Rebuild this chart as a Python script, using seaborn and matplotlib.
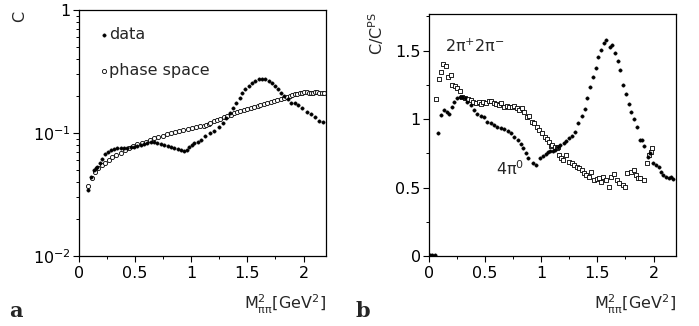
import matplotlib
matplotlib.use("Agg")
import matplotlib.pyplot as plt
import seaborn as sns
import pandas as pd
from matplotlib.ticker import FixedLocator, MultipleLocator, LogLocator, NullFormatter

# ---------------- data: panel a (log scale) ----------------
a_data_m = [0.083, 0.105, 0.134, 0.149, 0.163, 0.185, 0.202, 0.232, 0.262, 0.283, 0.312, 0.342,
            0.372, 0.402, 0.431, 0.461, 0.491, 0.521, 0.551, 0.580, 0.610, 0.640, 0.670, 0.699,
            0.729, 0.759, 0.789, 0.818, 0.848, 0.878, 0.908, 0.938, 0.958, 0.982, 1.006, 1.027,
            1.057, 1.086, 1.125, 1.164, 1.205, 1.244, 1.283, 1.313, 1.342, 1.372, 1.402, 1.432,
            1.452, 1.482, 1.512, 1.542, 1.571, 1.601, 1.631, 1.661, 1.690, 1.720, 1.750, 1.771,
            1.795, 1.824, 1.860, 1.890, 1.920, 1.949, 1.988, 2.027, 2.063, 2.098, 2.137, 2.176]
a_data_c = [0.0344, 0.044, 0.050, 0.0516, 0.0532, 0.0567, 0.0611, 0.0675, 0.0705, 0.0727, 0.0737, 0.0751,
            0.0751, 0.0751, 0.0760, 0.0765, 0.0774, 0.0784, 0.0799, 0.0814, 0.0834, 0.0850, 0.0850, 0.0834,
            0.0814, 0.0799, 0.0784, 0.0774, 0.0760, 0.0737, 0.0727, 0.0714, 0.0727, 0.0765, 0.0799, 0.0825,
            0.0850, 0.0878, 0.0945, 0.0995, 0.1044, 0.1112, 0.1213, 0.1317, 0.1446, 0.1589, 0.1743, 0.1915,
            0.2103, 0.2266, 0.2411, 0.2536, 0.2663, 0.2733, 0.2748, 0.2733, 0.2663, 0.2564, 0.2411, 0.2266,
            0.2126, 0.2000, 0.1879, 0.1763, 0.1743, 0.1689, 0.1589, 0.1490, 0.1419, 0.1357, 0.1259, 0.1235]

a_ps_m = [0.083, 0.113, 0.143, 0.173, 0.202, 0.232, 0.268, 0.298, 0.333, 0.372, 0.411, 0.446,
          0.482, 0.521, 0.560, 0.595, 0.631, 0.670, 0.708, 0.744, 0.780, 0.818, 0.857, 0.893,
          0.929, 0.967, 1.006, 1.042, 1.077, 1.116, 1.130, 1.155, 1.170, 1.199, 1.230, 1.259,
          1.290, 1.319, 1.350, 1.378, 1.410, 1.438, 1.470, 1.497, 1.530, 1.556, 1.590, 1.616,
          1.650, 1.676, 1.710, 1.735, 1.765, 1.795, 1.825, 1.854, 1.875, 1.899, 1.920, 1.944,
          1.965, 1.988, 2.005, 2.027, 2.045, 2.063, 2.080, 2.098, 2.120, 2.137, 2.160, 2.181]
a_ps_c = [0.0371, 0.0428, 0.0485, 0.0516, 0.0549, 0.0573, 0.0603, 0.0634, 0.0662, 0.0691, 0.0727, 0.0751,
          0.0784, 0.0814, 0.0834, 0.0850, 0.0877, 0.0905, 0.0933, 0.0951, 0.0976, 0.0995, 0.1020, 0.1040,
          0.1060, 0.1075, 0.1090, 0.1110, 0.1130, 0.1150, 0.1160, 0.1175, 0.1200, 0.1250, 0.1280, 0.1310,
          0.1340, 0.1380, 0.1410, 0.1445, 0.1480, 0.1510, 0.1540, 0.1570, 0.1600, 0.1635, 0.1660, 0.1690,
          0.1720, 0.1750, 0.1780, 0.1810, 0.1850, 0.1890, 0.1930, 0.1960, 0.2000, 0.2030, 0.2060, 0.2075,
          0.2100, 0.2126, 0.2160, 0.2168, 0.2130, 0.2126, 0.2110, 0.2168, 0.2150, 0.2126, 0.2100, 0.2126]

# ---------------- data: panel b (ratio) ----------------
b_fill_m = [0.01, 0.03, 0.05, 0.083, 0.107, 0.137, 0.158, 0.182, 0.203, 0.227, 0.25, 0.274, 0.295,
            0.319, 0.34, 0.37, 0.40, 0.43, 0.46, 0.49, 0.52, 0.55, 0.58, 0.61, 0.64, 0.67, 0.70,
            0.73, 0.76, 0.79, 0.815, 0.835, 0.86, 0.88, 0.925, 0.955, 0.985, 1.015, 1.04, 1.06,
            1.08, 1.10, 1.12, 1.145, 1.17, 1.20, 1.22, 1.25, 1.275, 1.30, 1.33, 1.36, 1.39, 1.41,
            1.434, 1.458, 1.485, 1.509, 1.532, 1.559, 1.580, 1.61, 1.634, 1.658, 1.679, 1.70, 1.729,
            1.753, 1.777, 1.798, 1.822, 1.849, 1.878, 1.896, 1.917, 1.947, 1.968, 1.997, 2.02, 2.046,
            2.066, 2.087, 2.11, 2.136, 2.156, 2.175]
b_fill_r = [0.005, 0.005, 0.005, 0.895, 1.03, 1.066, 1.053, 1.04, 1.09, 1.126, 1.151, 1.163, 1.158,
            1.151, 1.126, 1.10, 1.066, 1.036, 1.022, 1.012, 0.980, 0.973, 0.956, 0.944, 0.937, 0.925, 0.912,
            0.895, 0.871, 0.847, 0.818, 0.786, 0.754, 0.713, 0.676, 0.664, 0.713, 0.73, 0.745, 0.757,
            0.769, 0.769, 0.774, 0.793, 0.81, 0.822, 0.842, 0.859, 0.876, 0.907, 0.97, 1.02, 1.07, 1.151,
            1.231, 1.309, 1.375, 1.450, 1.504, 1.553, 1.577, 1.528, 1.540, 1.479, 1.426, 1.358, 1.248,
            1.182, 1.109, 1.053, 0.998, 0.944, 0.847, 0.847, 0.803, 0.725, 0.75, 0.677, 0.664, 0.652,
            0.615, 0.591, 0.579, 0.567, 0.579, 0.56]

b_sq_m = [0.066, 0.089, 0.11, 0.125, 0.149, 0.173, 0.197, 0.209, 0.233, 0.253, 0.275, 0.298, 0.322,
          0.349, 0.373, 0.396, 0.418, 0.441, 0.462, 0.483, 0.507, 0.530, 0.552, 0.575, 0.597, 0.620,
          0.641, 0.671, 0.695, 0.716, 0.74, 0.76, 0.781, 0.805, 0.829, 0.85, 0.874, 0.894, 0.919,
          0.939, 0.96, 0.984, 1.008, 1.029, 1.049, 1.073, 1.09, 1.098, 1.118, 1.142, 1.15, 1.16,
          1.175, 1.196, 1.217, 1.246, 1.27, 1.291, 1.315, 1.336, 1.36, 1.38, 1.402, 1.425, 1.446,
          1.47, 1.494, 1.514, 1.53, 1.554, 1.574, 1.604, 1.619, 1.649, 1.673, 1.693, 1.724, 1.744,
          1.768, 1.798, 1.822, 1.843, 1.863, 1.881, 1.912, 1.941, 1.962, 1.977, 1.983]
b_sq_r = [1.144, 1.29, 1.345, 1.40, 1.387, 1.309, 1.321, 1.248, 1.241, 1.224, 1.207, 1.158, 1.151,
          1.144, 1.139, 1.126, 1.115, 1.126, 1.109, 1.126, 1.119, 1.134, 1.134, 1.119, 1.109, 1.102,
          1.119, 1.09, 1.095, 1.085, 1.085, 1.095, 1.078, 1.066, 1.078, 1.053, 1.012, 1.022, 0.98,
          0.969, 0.939, 0.92, 0.90, 0.871, 0.852, 0.834, 0.803, 0.81, 0.798, 0.786, 0.798, 0.737,
          0.713, 0.70, 0.737, 0.688, 0.676, 0.664, 0.652, 0.64, 0.628, 0.604, 0.591, 0.579, 0.615,
          0.555, 0.56, 0.567, 0.542, 0.579, 0.555, 0.501, 0.579, 0.599, 0.555, 0.531, 0.518, 0.501,
          0.604, 0.615, 0.628, 0.591, 0.567, 0.567, 0.555, 0.676, 0.737, 0.761, 0.786]

xticks = [0, 0.5, 1, 1.5, 2]
xtick_labels = ["0", "0.5", "1", "1.5", "2"]
a_yticks = [0.01, 0.1, 1]
a_ytick_labels = [r"$10^{-2}$", r"$10^{-1}$", "1"]
b_yticks = [0, 0.5, 1, 1.5]
b_ytick_labels = ["0", "0.5", "1", "1.5"]

# ---------------- style ----------------
sns.set_style("ticks")
plt.rcParams["font.family"] = ["DejaVu Sans"]
plt.rcParams["mathtext.fontset"] = "dejavusans"
plt.rcParams["mathtext.default"] = "regular"

FS = 11.5
W, H = 699, 326
fig = plt.figure(figsize=(W / 100, H / 100), dpi=100)

def px_axes(l, t, r, b):
    return fig.add_axes([l / W, 1 - b / H, (r - l) / W, (b - t) / H])

axa = px_axes(79, 10, 326, 256)
axb = px_axes(429, 14, 676, 256)

dfa_d = pd.DataFrame({"m": a_data_m, "c": a_data_c})
dfa_p = pd.DataFrame({"m": a_ps_m, "c": a_ps_c})
dfb_f = pd.DataFrame({"m": b_fill_m, "r": b_fill_r})
dfb_s = pd.DataFrame({"m": b_sq_m, "r": b_sq_r})

sns.scatterplot(data=dfa_p, x="m", y="c", ax=axa, marker="o", s=9, facecolor="white",
                edgecolor="black", linewidth=0.6, label="phase space", zorder=2)
sns.scatterplot(data=dfa_d, x="m", y="c", ax=axa, marker="o", s=6, color="black",
                edgecolor="black", linewidth=0.3, label="data", zorder=3)

sns.scatterplot(data=dfb_s, x="m", y="r", ax=axb, marker="s", s=9, facecolor="white",
                edgecolor="black", linewidth=0.6, zorder=2)
sns.scatterplot(data=dfb_f, x="m", y="r", ax=axb, marker="o", s=6, color="black",
                edgecolor="black", linewidth=0.3, zorder=3)

for ax in (axa, axb):
    ax.set_xlim(0, 2.2)
    ax.set_xlabel("")
    ax.set_ylabel("")
    for sp in ax.spines.values():
        sp.set_visible(True)
        sp.set_linewidth(0.9)
        sp.set_color("black")
    ax.set_xticks(xticks)
    ax.set_xticklabels(xtick_labels)
    ax.xaxis.set_minor_locator(MultipleLocator(0.25))
    ax.tick_params(axis="both", which="major", direction="out", length=4, width=0.8,
                   labelsize=FS, colors="black", pad=2)
    ax.tick_params(axis="both", which="minor", direction="out", length=2.3, width=0.7,
                   colors="black")
    ax.tick_params(axis="x", which="major", pad=3)
    ax.tick_params(top=False, right=False, which="both")
    ax.set_facecolor("white")

axa.set_yscale("log")
axa.set_ylim(0.01, 1)
axa.yaxis.set_major_locator(FixedLocator(a_yticks))
axa.set_yticklabels(a_ytick_labels)
axa.yaxis.set_minor_locator(LogLocator(base=10, subs=range(2, 10)))
axa.yaxis.set_minor_formatter(NullFormatter())

axb.set_ylim(0, 1.767)
axb.set_yticks(b_yticks)
axb.set_yticklabels(b_ytick_labels)
axb.yaxis.set_minor_locator(MultipleLocator(0.25))

# legend for panel a
handles, labels = axa.get_legend_handles_labels()
order = [labels.index("data"), labels.index("phase space")]
axa.legend([handles[i] for i in order], [labels[i] for i in order], loc="upper left",
           bbox_to_anchor=(0.036, 0.955), frameon=False, fontsize=FS, handletextpad=-0.3,
           labelspacing=1.3, handlelength=1.2, borderaxespad=0, markerscale=1.0)

# panel b annotations
axb.text(0.065, 0.865, r"2$\pi^{+}$2$\pi^{-}$", transform=axb.transAxes, fontsize=FS,
         ha="left", va="center")
axb.text(0.27, 0.36, r"4$\pi^{0}$", transform=axb.transAxes, fontsize=FS,
         ha="left", va="center")

# axis titles
fig.text(20 / W, 1 - 16 / H, "C", rotation=90, fontsize=FS, ha="center", va="center")
fig.text(376 / W, 1 - 12 / H, r"C/C$^{PS}$", rotation=90, fontsize=FS,
         ha="center", va="top")
for xr in (326, 676):
    fig.text(xr / W, 1 - 304 / H, r"M$^{2}_{\pi\pi}$[GeV$^{2}$]", fontsize=FS,
             ha="right", va="center")

fig.text(9 / W, 1 - 311 / H, "a", fontsize=15, fontweight="bold",
         family=["DejaVu Serif"], ha="left", va="center")
fig.text(356 / W, 1 - 311 / H, "b", fontsize=15, fontweight="bold",
         family=["DejaVu Serif"], ha="left", va="center")

fig.savefig("out.png", dpi=100, facecolor="white")
